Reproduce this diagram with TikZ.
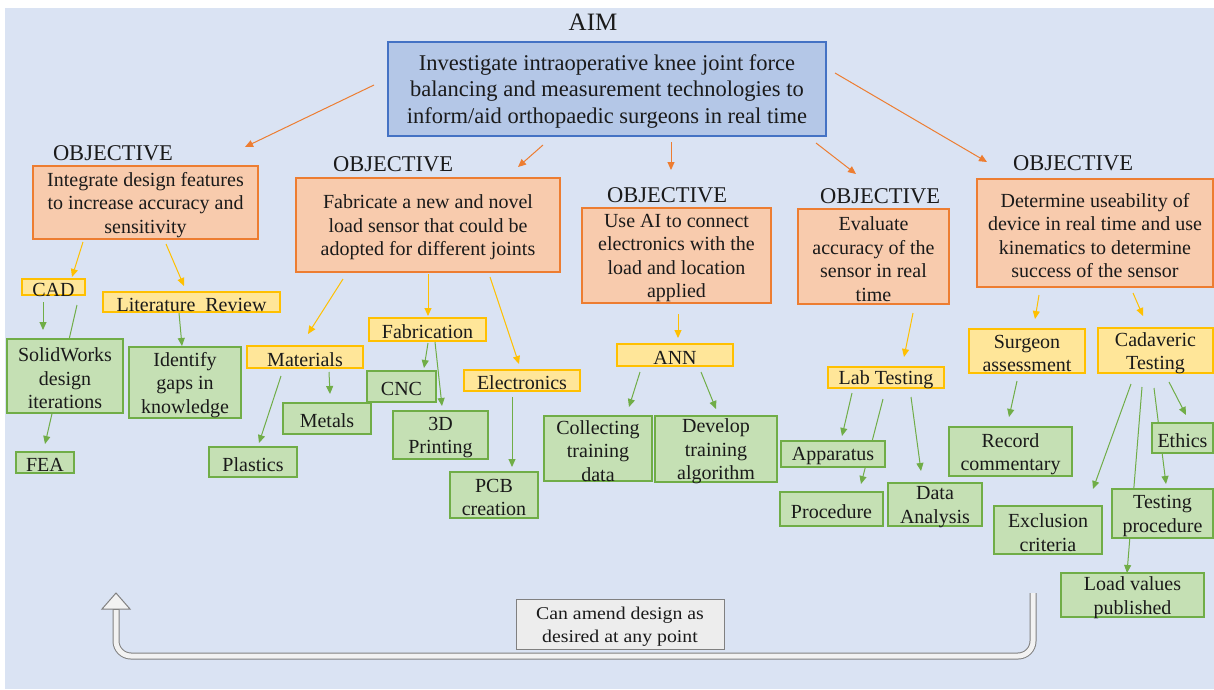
\documentclass[tikz,border=0pt]{standalone}
\usepackage{fontspec}
\setmainfont{Liberation Serif}
\newfontfamily\amendfont[FakeStretch=1.1]{Liberation Serif}
\usetikzlibrary{arrows.meta}
\definecolor{bgc}{HTML}{DAE3F3}
\definecolor{aimf}{HTML}{B4C7E7}
\definecolor{aimb}{HTML}{4472C4}
\definecolor{objf}{HTML}{F8CBAD}
\definecolor{objb}{HTML}{ED7D31}
\definecolor{yelf}{HTML}{FFE699}
\definecolor{yelb}{HTML}{FFC000}
\definecolor{grnf}{HTML}{C5E0B4}
\definecolor{grnb}{HTML}{70AD47}
\definecolor{grayf}{HTML}{EDEDED}
\definecolor{grayb}{HTML}{808080}
\definecolor{uarrf}{HTML}{F2F2F2}
\definecolor{txt}{HTML}{1A1A1A}
\pgfdeclarelayer{bglayer}
\pgfdeclarelayer{arrlayer}
\pgfsetlayers{bglayer,arrlayer,main}
\newcommand\bx[7]{\node[#1,minimum width={#5-#3},minimum height={#6-#4}] (#2) at ({(#3+#5)/2},{(#4+#6)/2}) {};
  \node[#1,draw=none,fill=none,minimum width=0pt,minimum height=0pt] (#2t) at ([yshift=-2.5pt]#2.center) {#7};}
\newcommand\arr[4]{\coordinate (#2s) at #3; \coordinate (#2e) at #4; \draw[#1] (#2s) -- (#2e);}
\tikzset{
  basebox/.style={inner sep=0pt, align=center, text=txt, font=\fontsize{20}{23.5}\selectfont},
  aimbox/.style={basebox, fill=aimf, draw=aimb, line width=1.3pt, font=\fontsize{22.5}{26.5}\selectfont},
  obox/.style={basebox, fill=objf, draw=objb, line width=1.5pt},
  ybox/.style={basebox, fill=yelf, draw=yelb, line width=1.5pt},
  gbox/.style={basebox, fill=grnf, draw=grnb, line width=1.5pt},
  amendbox/.style={basebox, fill=grayf, draw=grayb, line width=1pt, font=\amendfont\fontsize{18}{23.5}\selectfont},
  lbl/.style={inner sep=0pt, text=txt, font=\fontsize{22.5}{26}\selectfont},
  oarr/.style={draw=objb, line width=1pt, -{Triangle[length=8pt,width=7pt]}},
  yarr/.style={draw=yelb, line width=1pt, -{Triangle[length=8pt,width=7pt]}},
  garr/.style={draw=grnb, line width=1pt, -{Triangle[length=8pt,width=7pt]}},
}
\begin{document}
\begin{tikzpicture}[x=1pt,y=-1pt]
\useasboundingbox (0,0) rectangle (1214,689);
\begin{pgfonlayer}{bglayer}
\fill[white] (0,0) rectangle (1214,689);
\fill[bgc] (5,8) rectangle (1214,689);
\end{pgfonlayer}

% labels
\node[lbl, font=\fontsize{25}{28}\selectfont] (aimlbl) at (593,22) {AIM};
\node[lbl] (olbl1) at (113,153) {OBJECTIVE};
\node[lbl] (olbl2) at (393,164) {OBJECTIVE};
\node[lbl] (olbl3) at (667,195) {OBJECTIVE};
\node[lbl] (olbl4) at (880,196) {OBJECTIVE};
\node[lbl] (olbl5) at (1073,163) {OBJECTIVE};

% aim
\bx{aimbox}{aim}{388}{42}{826}{136}{Investigate intraoperative knee joint force\\balancing and measurement technologies to\\inform/aid orthopaedic surgeons in real time}

% objectives
\bx{obox}{ob1}{33}{166}{258}{239}{Integrate design features\\to increase accuracy and\\sensitivity}
\bx{obox}{ob2}{296}{178}{560}{272}{Fabricate a new and novel\\load sensor that could be\\adopted for different joints}
\bx{obox}{ob3}{582}{208}{771}{303}{Use AI to connect\\electronics with the\\load and location\\applied}
\bx{obox}{ob4}{798}{209}{949}{304}{Evaluate\\accuracy of the\\sensor in real\\time}
\bx{obox}{ob5}{977}{179}{1213}{287}{Determine useability of\\device in real time and use\\kinematics to determine\\success of the sensor}

% yellow
\bx{ybox}{cad}{22}{279}{85}{295}{CAD}
\bx{ybox}{lit}{103}{292}{280}{312}{Literature\ \ Review}
\bx{ybox}{mat}{247}{346}{363}{368}{Materials}
\bx{ybox}{fab}{369}{318}{486}{341}{Fabrication}
\bx{ybox}{ele}{464}{370}{580}{391}{Electronics}
\bx{ybox}{ann}{617}{344}{733}{366}{ANN}
\bx{ybox}{lab}{828}{367}{944}{388}{Lab Testing}
\bx{ybox}{sur}{969}{329}{1085}{373}{Surgeon\\assessment}
\bx{ybox}{cada}{1098}{328}{1213}{373}{Cadaveric\\Testing}

% green
\bx{gbox}{sw}{7}{339}{123}{413}{SolidWorks\\design\\iterations}
\bx{gbox}{fea}{16}{452}{74}{473}{FEA}
\bx{gbox}{idg}{129}{347}{241}{418}{Identify\\gaps in\\knowledge}
\bx{gbox}{pla}{209}{447}{297}{477}{Plastics}
\bx{gbox}{met}{283}{403}{371}{434}{Metals}
\bx{gbox}{cnc}{367}{371}{436}{402}{CNC}
\bx{gbox}{p3d}{393}{411}{488}{459}{3D\\Printing}
\bx{gbox}{pcb}{450}{472}{538}{518}{PCB\\creation}
\bx{gbox}{col}{544}{416}{652}{481}{Collecting\\training\\data}
\bx{gbox}{dev}{655}{416}{777}{482}{Develop\\training\\algorithm}
\bx{gbox}{app}{781}{441}{885}{467}{Apparatus}
\bx{gbox}{pro}{780}{492}{883}{526}{Procedure}
\bx{gbox}{dat}{888}{483}{982}{526}{Data\\Analysis}
\bx{gbox}{rec}{949}{427}{1072}{476}{Record\\commentary}
\bx{gbox}{exc}{994}{506}{1102}{554}{Exclusion\\criteria}
\bx{gbox}{eth}{1152}{423}{1213}{453}{Ethics}
\bx{gbox}{tes}{1112}{489}{1213}{538}{Testing\\procedure}
\bx{gbox}{loa}{1061}{573}{1204}{617}{Load values\\published}

% amend box
\bx{amendbox}{amend}{516}{599}{724}{649}{Can amend design as\\desired at any point}

\begin{pgfonlayer}{arrlayer}
% orange
\arr{oarr}{o1}{(374,85)}{(245,147)}
\arr{oarr}{o2}{(543,145)}{(518,167)}
\arr{oarr}{o3}{(671,142)}{(671,170)}
\arr{oarr}{o4}{(816,143)}{(856,174)}
\arr{oarr}{o5}{(835,73)}{(987,162)}
% yellow
\arr{yarr}{y1}{(83,242)}{(72,277)}
\arr{yarr}{y2}{(166,244)}{(184,286)}
\arr{yarr}{y3}{(343,279)}{(308,334)}
\arr{yarr}{y4}{(428,274)}{(428,316)}
\arr{yarr}{y5}{(490,277)}{(519,364)}
\arr{yarr}{y6}{(678,314)}{(678,338)}
\arr{yarr}{y7}{(913,313)}{(904,357)}
\arr{yarr}{y8}{(1039,295)}{(1035,319)}
\arr{yarr}{y9}{(1133,293)}{(1143,316)}
% green
\arr{garr}{g1}{(43,302)}{(43,330)}
\arr{garr}{g2}{(77,305)}{(45,444)}
\arr{garr}{g3}{(179,313)}{(182,346)}
\arr{garr}{g4}{(281,376)}{(259,443)}
\arr{garr}{g5}{(329,372)}{(330,394)}
\arr{garr}{g6}{(428,343)}{(424,368)}
\arr{garr}{g7}{(435,342)}{(442,406)}
\arr{garr}{g8}{(512,397)}{(512,467)}
\arr{garr}{g9}{(640,372)}{(629,407)}
\arr{garr}{g10}{(701,372)}{(716,409)}
\arr{garr}{g11}{(852,393)}{(842,436)}
\arr{garr}{g12}{(883,399)}{(861,484)}
\arr{garr}{g13}{(911,397)}{(921,471)}
\arr{garr}{g14}{(1017,381)}{(1009,417)}
\arr{garr}{g15}{(1131,384)}{(1093,489)}
\arr{garr}{g16}{(1142,387)}{(1127,573)}
\arr{garr}{g17}{(1154,388)}{(1166,484)}
\arr{garr}{g18}{(1169,382)}{(1186,415)}
\end{pgfonlayer}

% U-shaped feedback arrow
\coordinate (ubase) at (116,608);
\coordinate (ucl) at (116,656);
\coordinate (ucr) at (1033,656);
\coordinate (uend) at (1033,593);
\coordinate (utip) at (116,593);
\draw[draw=grayb, line width=7pt, rounded corners=15pt] (ubase) -- (ucl) -- (ucr) -- (uend);
\filldraw[fill=uarrf, draw=grayb, line width=1pt] (utip) -- (130,609) -- (102,609) -- cycle;
\draw[draw=uarrf, line width=5pt, rounded corners=15pt] ([yshift=-2pt]ubase) -- (ucl) -- (ucr) -- (uend);
\end{tikzpicture}
\end{document}
